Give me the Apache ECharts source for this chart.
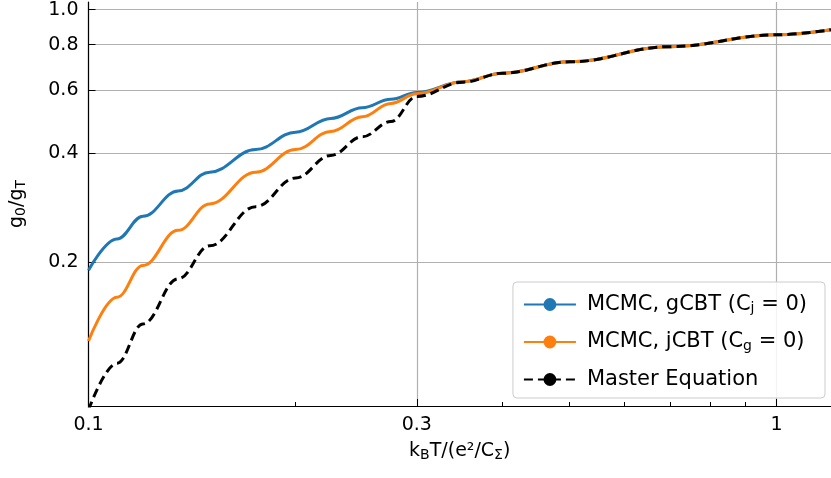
<!DOCTYPE html>
<html><head><meta charset="utf-8">
<script src="https://cdn.jsdelivr.net/npm/echarts@6/dist/echarts.min.js"></script>
<style>html,body{margin:0;padding:0;background:#fff}#c{width:831px;height:478px}</style>
</head><body><div id="c"></div>
<script>
// data
var xVals      = [0.1, 0.11, 0.12, 0.135, 0.15, 0.175, 0.2, 0.225, 0.25, 0.275, 0.3, 0.35, 0.4, 0.5, 0.7, 1.0, 1.2];
var gcbt       = [0.19, 0.232, 0.268, 0.315, 0.355, 0.41, 0.458, 0.5, 0.535, 0.565, 0.59, 0.632, 0.667, 0.717, 0.79, 0.852, 0.88];
var jcbt       = [0.121, 0.16, 0.196, 0.245, 0.29, 0.355, 0.41, 0.46, 0.505, 0.55, 0.585, 0.632, 0.667, 0.717, 0.79, 0.852, 0.88];
var master     = [0.078, 0.105, 0.135, 0.18, 0.222, 0.285, 0.342, 0.395, 0.445, 0.49, 0.575, 0.63, 0.667, 0.717, 0.79, 0.852, 0.88];
var xTicks     = [0.1, 0.3, 1];
var xMinor     = [0.2, 0.4, 0.5, 0.6, 0.7, 0.8, 0.9];
var yTicks     = [0.2, 0.4, 0.6, 0.8, 1.0];

function pairs(ys){ return xVals.map((x,i)=>[x,ys[i]]) }
var font = 'DejaVu Sans';
var sub = {sub:{fontSize:14, verticalAlign:'bottom', padding:[8,0,0,0], fontFamily:font}};

var chart = echarts.init(document.getElementById('c'));
chart.setOption({
    animation:false,
    textStyle:{fontFamily:font},
    grid:{left:85, right:0, top:2, bottom:72},
    xAxis:[{
        type:'log', min:0.1, max:1.2,
        axisLine:{lineStyle:{color:'#000', width:1.2}},
        axisTick:{inside:true, length:7, customValues:xTicks, lineStyle:{color:'#000'}},
        axisLabel:{customValues:xTicks, fontSize:19, color:'#000', margin:10,
            formatter:v=>String(+v.toPrecision(3))},
        splitLine:{show:true, lineStyle:{color:'#b0b0b0', width:1.2}},
        name:'k{sub|B}T/(e²/C{sub|Σ})', nameLocation:'middle', nameGap:34,
        nameTextStyle:{fontSize:19, color:'#000', rich:sub}
    },{
        type:'log', min:0.1, max:1.2, position:'bottom',
        axisLine:{show:false},
        axisTick:{inside:true, length:4, customValues:xMinor, lineStyle:{color:'#000'}},
        axisLabel:{show:false}, splitLine:{show:false}
    }],
    yAxis:{
        type:'log', min:0.08, max:1.05,
        axisLine:{lineStyle:{color:'#000', width:1.2}},
        axisTick:{inside:true, length:7, customValues:yTicks, lineStyle:{color:'#000'}},
        axisLabel:{customValues:yTicks, fontSize:19, color:'#000', margin:10,
            formatter:v=>(+v).toFixed(1)},
        splitLine:{show:true, lineStyle:{color:'#b0b0b0', width:1.2}},
        name:'g{sub|0}/g{sub|T}', nameLocation:'middle', nameGap:60, nameRotate:90,
        nameTextStyle:{fontSize:19, color:'#000', rich:sub}
    },
    legend:{
        right:6, bottom:80, orient:'vertical', itemGap:16,
        itemWidth:52, itemHeight:16,
        padding:[12,18,8,10],
        borderColor:'#ccc', borderWidth:1, borderRadius:4, backgroundColor:'rgba(255,255,255,0.85)',
        textStyle:{fontSize:21, color:'#000', padding:[0,0,0,6], rich:sub},
        formatter:function(n){
            if(n.indexOf('gCBT')>=0) return 'MCMC, gCBT (C{sub|j} = 0)';
            if(n.indexOf('jCBT')>=0) return 'MCMC, jCBT (C{sub|g} = 0)';
            return n;
        },
        data:['gCBT','jCBT','Master Equation']
    },
    series:[
        {name:'gCBT', type:'line', data:pairs(gcbt), smooth:0.4, smoothMonotone:'x', showSymbol:false, symbol:'none',
         lineStyle:{color:'#1f77b4', width:3}, itemStyle:{color:'#1f77b4'}},
        {name:'jCBT', type:'line', data:pairs(jcbt), smooth:0.4, smoothMonotone:'x', showSymbol:false, symbol:'none',
         lineStyle:{color:'#ff7f0e', width:3}, itemStyle:{color:'#ff7f0e'}},
        {name:'Master Equation', type:'line', data:pairs(master), smooth:0.4, smoothMonotone:'x', showSymbol:false, symbol:'none',
         lineStyle:{color:'#000', width:3, type:[9,5]}, itemStyle:{color:'#000'}}
    ]
});
</script></body></html>
